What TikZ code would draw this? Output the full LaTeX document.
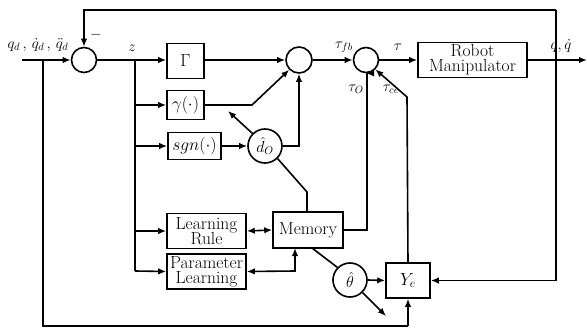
\RequirePackage{fix-cm}
\documentclass[tikz,border=0pt]{standalone}
\usetikzlibrary{arrows.meta}
\begin{document}
\begin{tikzpicture}[x=1pt,y=-1pt,
  line width=1.6pt,
  >={Latex[length=8pt,width=6.5pt]},
  blk/.style={draw,rectangle,inner sep=0pt,font=\fontsize{17.5}{18}\selectfont,align=center},
  sumc/.style={draw,circle,inner sep=0pt},
  lbl/.style={font=\fontsize{15}{16}\selectfont,inner sep=1pt}]
\useasboundingbox (0,0) rectangle (587,329);
% nodes
\node[sumc,minimum size=25pt] (s1) at (84,60) {};
\node[sumc,minimum size=26pt] (s2) at (299,60) {};
\node[sumc,minimum size=25pt] (s3) at (366,60) {};
\node[blk,minimum width=37pt,minimum height=35pt] (gam) at (185.5,61) {$\Gamma$};
\node[blk,minimum width=37pt,minimum height=29pt] (gfun) at (185.5,105) {$\gamma(\cdot)$};
\node[blk,minimum width=53pt,minimum height=27pt] (sgn) at (194.5,146) {$sgn(\cdot)$};
\node[sumc,minimum size=34pt,font=\fontsize{16}{17}\selectfont] (dO) at (265,146) {$\hat d_O$};
\node[blk,minimum width=109pt,minimum height=35pt] (robot) at (472.5,60) {Robot\\[-3pt]Manipulator};
\node[blk,minimum width=70pt,minimum height=36pt] (mem) at (308,230) {Memory};
\node[blk,minimum width=79pt,minimum height=35pt] (lr) at (206.5,231) {Learning\\[-3pt]Rule};
\node[blk,minimum width=79pt,minimum height=35pt] (pl) at (206.5,271.5) {Parameter\\[-3pt]Learning};
\node[sumc,minimum size=34pt,font=\fontsize{16}{17}\selectfont] (th) at (350,280) {$\hat\theta$};
\node[blk,minimum width=44pt,minimum height=35pt] (ye) at (408,280.5) {$Y_e$};
% coordinates
\coordinate (in) at (22,60);
\coordinate (br1) at (43,60);
\coordinate (bot1) at (43,326);
\coordinate (zb) at (135,60);
\coordinate (zbot) at (135,271);
\coordinate (ftop) at (556,10);
\coordinate (out) at (587,60);
\coordinate (gk) at (252,105);
\coordinate (dtip) at (228,111);
\coordinate (mk) at (307,192);
\coordinate (ok) at (367,230);
\coordinate (ck) at (407,97);
\coordinate (pk) at (295,271);
\coordinate (mb) at (295,248);
\coordinate (mb2) at (312,248);
\coordinate (ttip) at (386,316);
% labels
\node[lbl] (lin) at (38,45) {$q_d\,,\,\dot q_d\,,\,\ddot q_d$};
\node[lbl] (lminus) at (96,35) {$-$};
\node[lbl] (lz) at (132,48) {$z$};
\node[lbl] (ltfb) at (344,47) {$\tau_{fb}$};
\node[lbl] (lt) at (398,47) {$\tau$};
\node[lbl] (lq) at (561,46) {$q,\dot q$};
\node[lbl] (lto) at (356,89) {$\tau_O$};
\node[lbl] (ltce) at (391,89) {$\tau_{ce}$};
% connectors
\draw[->] (in) -- (s1.west);
\draw (br1) -- (bot1) -- (bot1 -| ye.south);
\draw[->] (bot1 -| ye.south) -- (ye.south);
\draw (ftop) -- (ftop |- ye.east);
\draw[->] (ftop |- ye.east) -- (ye.east);
\draw[->] (ftop) -- (ftop -| s1.north) -- (s1.north);
\draw[->] (s1.east) -- (s1.east -| gam.west);
\draw (zb) -- (zbot);
\draw[->] (zb |- gfun.west) -- (gfun.west);
\draw[->] (zb |- sgn.west) -- (sgn.west);
\draw[->] (zb |- lr.west) -- (lr.west);
\draw[->] (zbot) -- (pl.west);
\draw[->] (gam.east |- s2.west) -- (s2.west);
\draw[->] (gfun.east) -- (gk) -- (s2.225);
\draw[->] (sgn.east) -- (dO.west);
\draw[->] (dO.135) -- (dtip);
\draw[->] (dO.east) -- (dO.east -| s2.south) -- (s2.south);
\draw (dO.-45) -- (mk) -- (mk |- mem.north);
\draw[->] (s2.east) -- (s3.west);
\draw[->] (s3.east) -- (robot.west);
\draw[->] (robot.east) -- (out);
\draw[->] (mem.east) -- (ok) -- (ok |- s3.south) -- (s3.south);
\draw[->] (ye.north) -- (ck) -- (s3.-45);
\draw[<->] (lr.east) -- (mem.west);
\draw[<->] (pl.east) -- (pk) -- (mb);
\draw (mb2) -- (th.135);
\draw[->] (th.east) -- (ye.west);
\draw[->] (th.-45) -- (ttip);
\end{tikzpicture}
\end{document}
